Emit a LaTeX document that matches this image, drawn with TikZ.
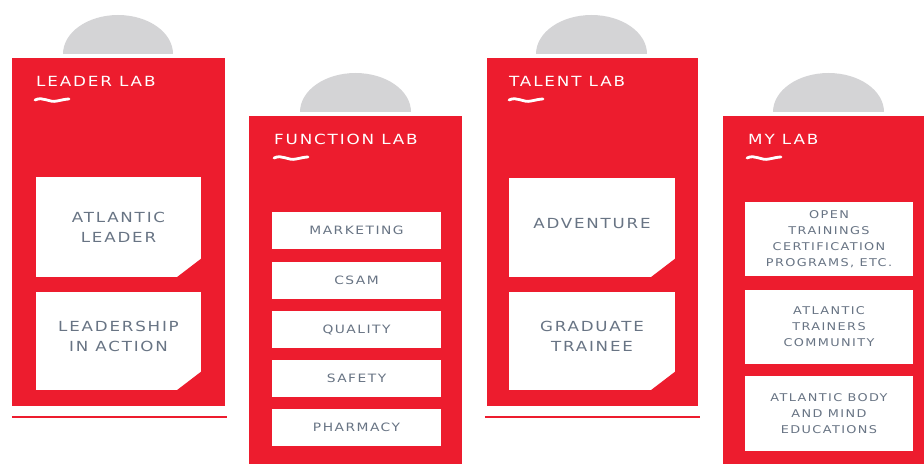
\documentclass[tikz,border=0pt]{standalone}
\usepackage{fontspec}
\setmainfont{DejaVu Sans}[FakeStretch=1.2,LetterSpace=13.0]
\usetikzlibrary{positioning}

\definecolor{labred}{RGB}{237,28,46}
\definecolor{tabgray}{RGB}{212,212,214}
\definecolor{itemgray}{RGB}{104,116,132}

% little white wave under each title
\newcommand\labwave[2]{%
  \draw[white,line width=2.8pt,line cap=round] (#1,#2) .. controls (#1+8,#2-4) and (#1+14,#2+3) .. (#1+22,#2+1)
    .. controls (#1+27,#2) and (#1+31,#2-1) .. (#1+34,#2-1);}
% cut-off lower right corner of a box
\newcommand\cutcorner[1]{%
  \fill[labred] ([xshift=0.5pt,yshift=-0.5pt]#1.south east) -- ([xshift=-25pt,yshift=-0.5pt]#1.south east)
    -- ([xshift=0.5pt,yshift=19pt]#1.south east) -- cycle;}

\begin{document}
\begin{tikzpicture}[x=1pt,y=-1pt,
  panel/.style={rectangle,fill=labred,minimum width=213pt,minimum height=348pt,inner sep=0pt},
  labtitle/.style={anchor=base west,text=white,inner sep=0pt,font=\fontsize{14}{16}\selectfont},
  cutitem/.style={rectangle,fill=white,inner sep=0pt,
    text=itemgray,align=center,font=\fontsize{13.9}{20}\selectfont},
  listitem/.style={rectangle,fill=white,minimum width=169pt,minimum height=37pt,inner sep=0pt,
    text=itemgray,font=\fontsize{11.5}{16}\selectfont},
  myitem/.style={rectangle,fill=white,minimum width=168pt,inner sep=0pt,
    text=itemgray,align=center,font=\fontsize{10.7}{16}\selectfont},
  tab/.style={fill=tabgray},
  underline/.style={labred,line width=2pt}]

  \useasboundingbox (0,0) rectangle (924,468);

  % tabs
  \fill[tab] (63,54) arc[start angle=180,end angle=360,x radius=55,y radius=39] -- cycle;
  \fill[tab] (300,112) arc[start angle=180,end angle=360,x radius=55.5,y radius=39] -- cycle;
  \fill[tab] (536,54) arc[start angle=180,end angle=360,x radius=55.5,y radius=39] -- cycle;
  \fill[tab] (773,112) arc[start angle=180,end angle=360,x radius=55.5,y radius=39] -- cycle;

  % panels
  \node[panel] at (118.5,232) (p1) {};
  \node[panel] at (355.5,290) (p2) {};
  \node[panel,minimum width=211pt] at (592.5,232) (p3) {};
  \node[panel] at (829.5,290) (p4) {};

  \draw[underline] ([yshift=-11pt]p1.south west) -- ([yshift=-11pt,xshift=2pt]p1.south east);
  \draw[underline] ([yshift=-11pt,xshift=-2pt]p3.south west) -- ([yshift=-11pt,xshift=2pt]p3.south east);

  % titles
  \node[labtitle] at (36,87) (t1) {LEADER LAB};
  \node[labtitle] at (274,145) (t2) {FUNCTION LAB};
  \node[labtitle] at (509,87) (t3) {TALENT LAB};
  \node[labtitle] at (748,145) (t4) {MY LAB};
  \labwave{35}{100}
  \labwave{274}{158}
  \labwave{509}{100}
  \labwave{747}{158}

  % leader lab
  \node[cutitem,minimum width=165pt,minimum height=100pt] at (118.5,227) (p1-1) {ATLANTIC\\LEADER};
  \node[cutitem,minimum width=165pt,minimum height=98pt,text depth=10pt] at (118.5,341) (p1-2) {LEADERSHIP\\IN ACTION};
  \cutcorner{p1-1}
  \cutcorner{p1-2}

  % function lab
  \node[listitem] at (356.5,230) (p2-1) {MARKETING};
  \node[listitem] at (356.5,280) (p2-2) {CSAM};
  \node[listitem] at (356.5,329.5) (p2-3) {QUALITY};
  \node[listitem] at (356.5,378.5) (p2-4) {SAFETY};
  \node[listitem] at (356.5,427.5) (p2-5) {PHARMACY};

  % talent lab
  \node[cutitem,minimum width=166pt,minimum height=99pt,text depth=9pt] at (592,227.5) (p3-1) {ADVENTURE};
  \node[cutitem,minimum width=166pt,minimum height=98pt,text depth=10pt] at (592,341) (p3-2) {GRADUATE\\TRAINEE};
  \cutcorner{p3-1}
  \cutcorner{p3-2}

  % my lab
  \node[myitem,minimum height=74pt] at (829,239) (p4-1) {OPEN\\TRAININGS\\CERTIFICATION\\PROGRAMS, ETC.};
  \node[myitem,minimum height=74pt] at (829,327) (p4-2) {ATLANTIC\\TRAINERS\\COMMUNITY};
  \node[myitem,minimum height=75pt] at (829,413.5) (p4-3) {ATLANTIC BODY\\AND MIND\\EDUCATIONS};

\end{tikzpicture}
\end{document}
